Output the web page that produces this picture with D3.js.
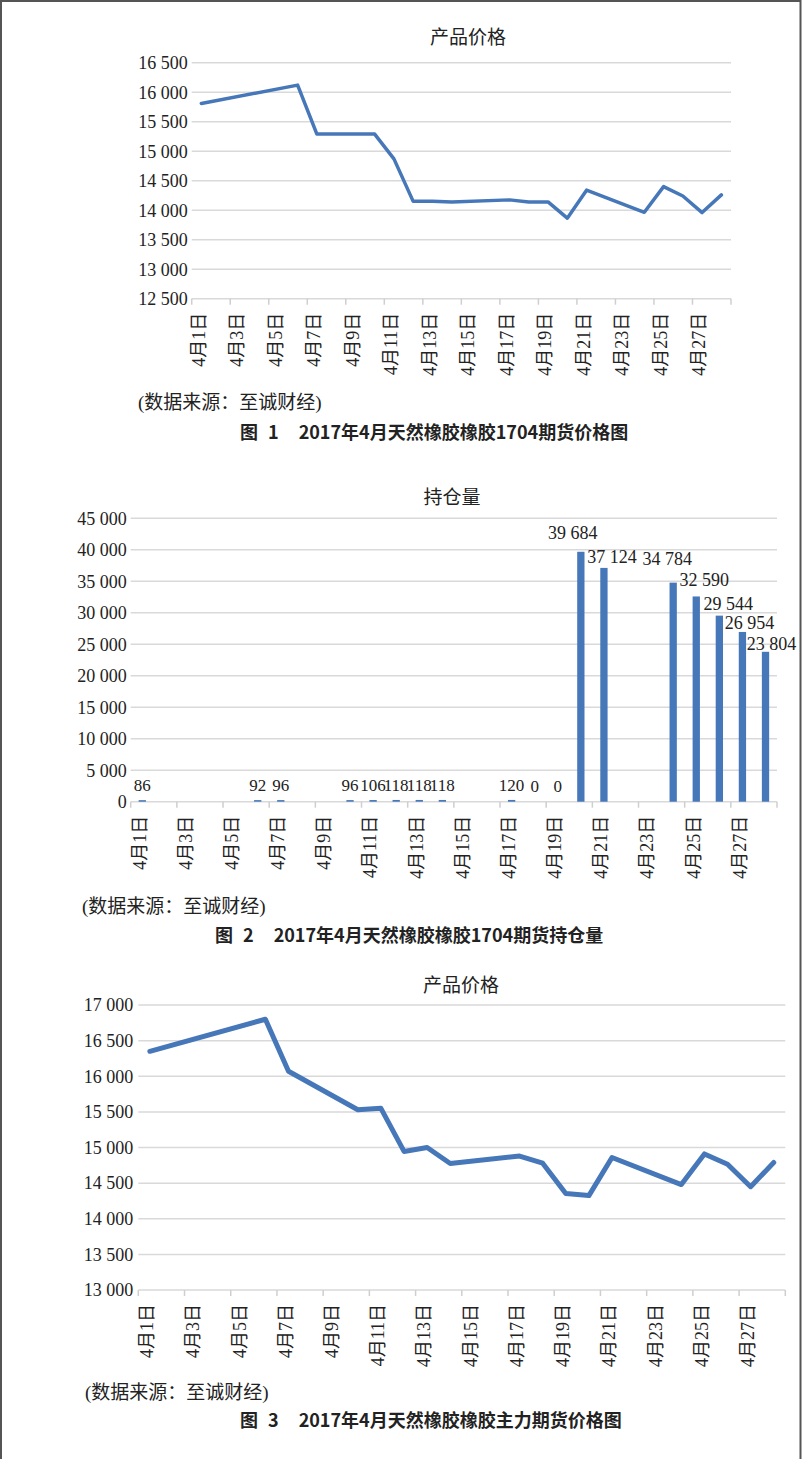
<!DOCTYPE html>
<html>
<head>
  <meta charset="utf-8">
  <script src="https://d3js.org/d3.v7.min.js"></script>
  <style>
    body { margin: 0; background: #fff; }
    svg { display: block; }
  </style>
</head>
<body>
  <svg id="viz"></svg>
  <script>
    // trading days in April 2017 (day of month)
    const days = [1, 6, 7, 10, 11, 12, 13, 14, 17, 18, 19, 20, 21, 24, 25, 26, 27, 28];

    // fig 1: 1704 contract price
    const price1704 = [15810, 16120, 15290, 15290, 14870, 14150, 14150, 14140, 14175,
                       14140, 14140, 13865, 14340, 13965, 14400, 14240, 13960, 14260];

    // fig 2: 1704 open interest
    const openInterest = [86, 92, 96, 96, 106, 118, 118, 118, 120,
                          0, 0, 39684, 37124, 34784, 32590, 29544, 26954, 23804];

    // fig 3: main contract price
    const priceMain = [16350, 16800, 16070, 15530, 15550, 14945, 15000, 14775, 14880,
                       14780, 14355, 14325, 14860, 14480, 14910, 14765, 14450, 14790];

    // axis labels
    const dayLabels = d3.range(1, 28, 2);
    const ticks1 = [12500, 13000, 13500, 14000, 14500, 15000, 15500, 16000, 16500];
    const ticks2 = [0, 5000, 10000, 15000, 20000, 25000, 30000, 35000, 40000, 45000];
    const ticks3 = [13000, 13500, 14000, 14500, 15000, 15500, 16000, 16500, 17000];

    const titles = ["产品价格", "持仓量", "产品价格"];
    const source = "(数据来源：至诚财经)";
    const captions = [
      "图 1  2017年4月天然橡胶橡胶1704期货价格图",
      "图 2  2017年4月天然橡胶橡胶1704期货持仓量",
      "图 3  2017年4月天然橡胶橡胶主力期货价格图"
    ];

    let width = 802, height = 1459;
    let svg = d3.select("#viz").attr("width", width).attr("height", height);

    let serif = "'Liberation Serif', 'DejaVu Serif', 'Noto Sans CJK SC', serif";
    let hei = "'Noto Sans CJK SC', sans-serif";
    let blue = "#4677b8", grid = "#d9d9d9";
    let fmt = v => d3.format(",")(v).replace(/,/g, " ");

    // page frame (scanned page edges)
    svg.append("path")
      .attr("d", `M1,${height} V1 H800.5 V${height}`)
      .attr("fill", "none")
      .attr("stroke", "#555")
      .attr("stroke-width", 2);

    // draws gridlines, y labels, x ticks and rotated date labels
    function frame(x, y, yTicks, labelGap) {
      let g = svg.append("g");
      let [x0, x1] = x.range();

      g.selectAll(".grid").data(yTicks).enter().append("line")
        .attr("x1", x0).attr("x2", x1)
        .attr("y1", d => y(d)).attr("y2", d => y(d))
        .attr("stroke", grid).attr("stroke-width", 1.5);

      g.selectAll(".ylab").data(yTicks).enter().append("text")
        .attr("font-family", serif)
        .attr("x", x0 - labelGap)
        .attr("y", d => y(d))
        .attr("dy", "0.35em")
        .attr("text-anchor", "end")
        .attr("font-size", 18)
        .attr("fill", "#222")
        .text(fmt);

      let base = y.range()[0];
      g.selectAll(".xtick").data(d3.range(0, 29, 2)).enter().append("line")
        .attr("x1", d => x(d)).attr("x2", d => x(d))
        .attr("y1", base).attr("y2", base + 6)
        .attr("stroke", "#cfcfcf").attr("stroke-width", 1.5);

      g.selectAll(".xlab").data(dayLabels).enter().append("text")
        .attr("font-family", serif)
        .attr("transform", d => `translate(${x(d - 0.5) - 3},${base + 14}) rotate(-90)`)
        .attr("dy", "0.35em")
        .attr("text-anchor", "end")
        .attr("font-size", 18)
        .attr("fill", "#222")
        .text(d => `4月${d}日`);
      return g;
    }

    function texts(i, titleX, titleY, srcX, srcY, capX, capY) {
      svg.append("text").attr("font-family", serif)
        .attr("x", titleX).attr("y", titleY).attr("dy", "0.35em")
        .attr("text-anchor", "middle").attr("font-size", 19).attr("fill", "#222")
        .text(titles[i]);
      svg.append("text").attr("font-family", serif)
        .attr("x", srcX).attr("y", srcY).attr("dy", "0.35em")
        .attr("font-size", 19).attr("fill", "#222")
        .text(source);
      // caption: "图", number, then text with wide gaps as in the print
      let cap = svg.append("text").attr("font-family", hei)
        .attr("x", capX).attr("y", capY).attr("dy", "0.35em")
        .attr("font-size", 18).attr("font-weight", "bold").attr("fill", "#222");
      cap.selectAll("tspan").data(captions[i].split(/\s+/)).enter().append("tspan")
        .attr("dx", (d, j) => [0, 10, 20][j])
        .text(d => d);
    }

    let line = (x, y) => d3.line().x(d => x(d[0] - 0.5)).y(d => y(d[1]));

    // ---- figure 1 ----
    let x1 = d3.scaleLinear().domain([0, 28]).range([191.7, 731]);
    let y1 = d3.scaleLinear().domain([12500, 16500]).range([298.7, 62.7]);
    frame(x1, y1, ticks1, 4);
    svg.append("path")
      .datum(d3.zip(days, price1704))
      .attr("d", line(x1, y1))
      .attr("fill", "none").attr("stroke", blue)
      .attr("stroke-width", 3.5).attr("stroke-linejoin", "round").attr("stroke-linecap", "round");
    texts(0, 468, 37, 138, 402, 240, 433);

    // ---- figure 2 ----
    let x2 = d3.scaleLinear().domain([0, 28]).range([130.7, 777]);
    let y2 = d3.scaleLinear().domain([0, 45000]).range([801.7, 518.3]);
    frame(x2, y2, ticks2, 4);

    // label nudges so the big labels sit like the original
    const labelNudge = [[0, 0], [0, 0], [0, 0], [0, 0], [0, 0], [0, 0], [0, 0], [0, 0], [0, 0],
                        [0, 0], [0, 0], [-8, -3], [8, 5], [-6, -8], [8, 0], [9, 4], [7, 7], [6, 8]];
    let bars = d3.zip(days, openInterest, labelNudge);
    svg.append("g").selectAll("rect").data(bars).enter().append("rect")
      .attr("x", d => x2(d[0] - 0.5) - 3.6)
      .attr("width", 7.3)
      .attr("y", d => y2(d[1]) - (d[1] > 0 && d[1] < 500 ? 1 : 0))
      .attr("height", d => y2(0) - y2(d[1]) + (d[1] > 0 && d[1] < 500 ? 1 : 0))
      .attr("fill", blue);
    svg.append("g").selectAll("text").data(bars).enter().append("text")
      .attr("font-family", serif)
      .attr("x", d => x2(d[0] - 0.5) + d[2][0])
      .attr("y", d => y2(d[1]) - 10 + d[2][1])
      .attr("text-anchor", "middle")
      .attr("font-size", d => d[1] < 1000 ? 17 : 18)
      .attr("fill", "#222")
      .text(d => fmt(d[1]));
    texts(1, 452, 497, 82, 906, 215, 936);

    // ---- figure 3 ----
    let x3 = d3.scaleLinear().domain([0, 28]).range([138.3, 785.3]);
    let y3 = d3.scaleLinear().domain([13000, 17000]).range([1290, 1005]);
    frame(x3, y3, ticks3, 5);
    svg.append("path")
      .datum(d3.zip(days, priceMain))
      .attr("d", line(x3, y3))
      .attr("fill", "none").attr("stroke", blue)
      .attr("stroke-width", 5).attr("stroke-linejoin", "round").attr("stroke-linecap", "round");
    texts(2, 461, 985, 85, 1392, 240, 1421);
  </script>
</body>
</html>
